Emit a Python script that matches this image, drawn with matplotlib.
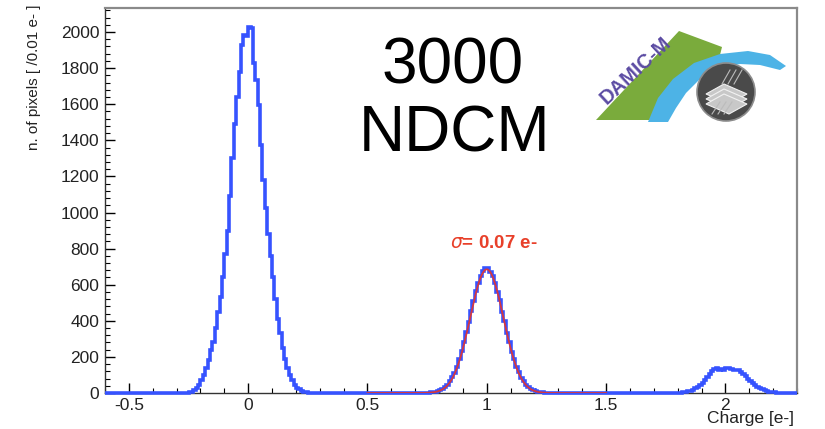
import numpy as np
import matplotlib
matplotlib.use("Agg")
import matplotlib.pyplot as plt
from matplotlib.patches import Polygon, Circle
from matplotlib.ticker import MultipleLocator

plt.rcParams["font.family"] = ["Liberation Sans", "DejaVu Sans"]

# =====================================
# Daten (Bins 0.01 e-)
# =====================================

x_min, x_max, bin_w = -0.6, 2.3, 0.01

# Peak bei 0 e-, erster Bin beginnt bei -0.26
peak0_start = -0.26
peak0_counts = [2, 5, 8, 15, 28, 45, 70, 100, 140, 185, 240, 280, 360, 450, 530,
                640, 770, 900, 1090, 1300, 1490, 1640, 1780, 1930, 1985, 1980,
                2030, 2020, 1830, 1735, 1595, 1375, 1180, 1025, 880, 760, 640,
                520, 410, 330, 250, 190, 140, 100, 70, 45, 30, 20, 12, 7, 4, 2]

# Peak bei 1 e-, erster Bin beginnt bei 0.74
peak1_start = 0.74
peak1_counts = [1, 2, 3, 5, 7, 11, 16, 23, 33, 46, 64, 86, 113, 146, 186, 231,
                282, 337, 395, 454, 511, 565, 611, 648, 675, 690,
                695, 672, 650, 608, 560, 515, 450, 398, 335, 285, 228, 188, 142,
                115, 84, 66, 45, 34, 22, 17, 10, 7, 5, 3, 2, 1]

# Peak bei 2 e-, erster Bin beginnt bei 1.82
peak2_start = 1.82
peak2_counts = [3, 6, 9, 13, 18, 25, 33, 44, 56, 70, 88, 105, 120, 132, 138,
                130, 134, 128, 136, 140, 134, 130, 128, 125, 115, 105, 92, 80,
                68, 56, 45, 36, 28, 21, 15, 11, 7, 5, 3, 2, 1]

# Gauss-Fit am 1 e- Peak
fit_amp, fit_mean, fit_sigma = 685, 1.0, 0.07
fit_range = (0.5, 1.5)

x_ticks = [-0.5, 0, 0.5, 1, 1.5, 2]
x_tick_labels = ["-0.5", "0", "0.5", "1", "1.5", "2"]

# =====================================
# Histogramm zusammensetzen
# =====================================

n_bins = int(round((x_max - x_min) / bin_w))
edges = x_min + bin_w * np.arange(n_bins + 1)
counts = np.zeros(n_bins)
for start, vals in [(peak0_start, peak0_counts), (peak1_start, peak1_counts),
                    (peak2_start, peak2_counts)]:
    i0 = int(round((start - x_min) / bin_w))
    counts[i0:i0 + len(vals)] = vals

fx = np.linspace(fit_range[0], fit_range[1], 400)
fy = fit_amp * np.exp(-0.5 * ((fx - fit_mean) / fit_sigma) ** 2)

# =====================================
# Plot
# =====================================

fig = plt.figure(figsize=(8.25, 4.29), dpi=100)
ax = fig.add_axes([105 / 825, 36 / 429, 692 / 825, 385 / 429])

ax.stairs(counts, edges, color="#3653ff", lw=2.6, clip_on=False, zorder=3)
ax.plot(fx, fy, color="#e8342a", lw=1.3, alpha=0.9, zorder=4)

ax.set_xlim(x_min, x_max)
ax.set_ylim(0, 2133)

ax.set_xticks(x_ticks)
ax.set_xticklabels(x_tick_labels)
ax.xaxis.set_minor_locator(MultipleLocator(0.1))
ax.yaxis.set_major_locator(MultipleLocator(200))
ax.yaxis.set_minor_locator(MultipleLocator(40))

ax.tick_params(axis="both", which="both", direction="in", top=False,
               right=False, labelsize=12.5, labelcolor="#222222")
ax.tick_params(axis="both", which="major", length=7, width=1)
ax.tick_params(axis="both", which="minor", length=3.5, width=0.8)
ax.tick_params(axis="y", pad=4)
ax.tick_params(axis="x", pad=3.5)

for s in ["left", "bottom"]:
    ax.spines[s].set_color("#333333")
    ax.spines[s].set_linewidth(1.0)
for s in ["top", "right"]:
    ax.spines[s].set_color("#8a8a8a")
    ax.spines[s].set_linewidth(1.6)

fig.text(34 / 825, 1 - 5 / 429, "n. of pixels [ /0.01 e- ]", rotation=90,
         ha="center", va="top", fontsize=11, color="#222222")
fig.text(794 / 825, 1 - 419 / 429, "Charge [e-]", ha="right", va="center",
         fontsize=12.5, color="#222222")

fig.text(453 / 825, 1 - 66 / 429, "3000", ha="center", va="center",
         fontsize=46, color="black")
fig.text(455 / 825, 1 - 134 / 429, "NDCM", ha="center", va="center",
         fontsize=46, color="black")

fig.text(494 / 825, 1 - 243 / 429, r"$\sigma$= 0.07 e-", ha="center",
         va="center", fontsize=13.5, fontweight="bold", color="#e8402a")

# =====================================
# DAMIC-M Logo (Pixelkoordinaten)
# =====================================

lx0, lx1, ly0, ly1 = 585, 795, 15, 125
lg = fig.add_axes([lx0 / 825, 1 - ly1 / 429, (lx1 - lx0) / 825, (ly1 - ly0) / 429])
lg.set_xlim(lx0, lx1)
lg.set_ylim(ly1, ly0)
lg.axis("off")

green = [(596, 120), (679, 31), (722, 47), (720, 55), (695, 64), (675, 79),
         (660, 98), (650, 120)]
lg.add_patch(Polygon(green, closed=True, color="#7aab3c", lw=0))

blue = [(648, 122), (658, 98), (673, 79), (694, 63), (720, 54), (748, 51),
        (770, 55), (786, 66), (780, 70), (760, 65), (740, 64), (718, 69),
        (700, 79), (686, 93), (676, 108), (668, 122)]
lg.add_patch(Polygon(blue, closed=True, color="#4db3e6", lw=0))

lg.add_patch(Circle((726, 92), 29, facecolor="#4a4a4a", edgecolor="#8c8c8c", lw=1.2))
for k in range(3):
    dy = k * 5
    layer = [(706, 94 + dy), (724, 84 + dy), (747, 94 + dy), (729, 104 + dy)]
    lg.add_patch(Polygon(layer, closed=True, facecolor="#c8c8c8",
                         edgecolor="#f2f2f2", lw=0.8))
for px in [722, 728, 734]:
    lg.plot([px, px + 8], [84, 70], color="#bbbbbb", lw=0.8)
    lg.plot([px - 10, px - 2], [114, 102], color="#bbbbbb", lw=0.8)

lg.text(636, 71, "DAMIC-M", rotation=43, ha="center", va="center",
        fontsize=14.5, fontweight="bold", color="#5b4ba3")

fig.savefig("out.png", dpi=100)
